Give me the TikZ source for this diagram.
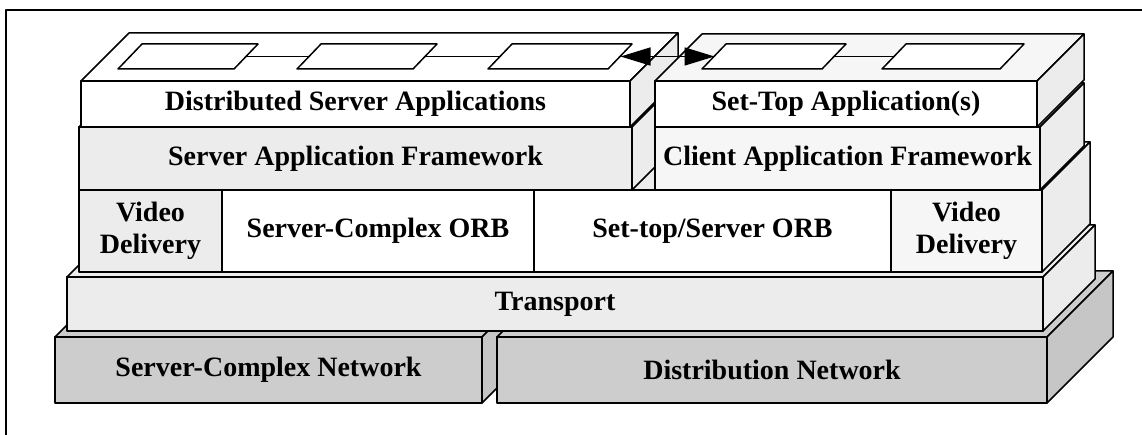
\documentclass[tikz,border=0pt]{standalone}
\usepackage{fontspec}
\setmainfont{Liberation Serif}
\usetikzlibrary{arrows.meta}
\definecolor{lite}{RGB}{236,236,236}
\definecolor{lite2}{RGB}{246,246,246}
\definecolor{net}{RGB}{205,205,205}
\definecolor{netside}{RGB}{198,198,198}
% top and right faces of a slab: x1,x2,ytop,ybot,depth,topfill,sidefill
\newcommand\slabfaces[7]{%
  \filldraw[fill=#6] (#1,#3) -- (#1+#5,#3-#5) -- (#2+#5,#3-#5) -- (#2,#3) -- cycle;
  \filldraw[fill=#7] (#2,#3) -- (#2+#5,#3-#5) -- (#2+#5,#4-#5) -- (#2,#4) -- cycle;}
% small tile on a top face: name, x of bottom-left, width
\newcommand\tile[3]{%
  \filldraw[fill=white] (#2,69) -- (#2+#3,69) -- (#2+#3+24,44) -- (#2+24,44) -- cycle;
  \coordinate (#1l) at (#2+12.5,56.5);
  \coordinate (#1r) at (#2+#3+12.5,56.5);}
\begin{document}
\begin{tikzpicture}[x=1pt,y=-1pt,line width=1.5pt,line join=round,
  face/.style={draw,line width=1.5pt,inner sep=0pt,align=center,
    font=\fontsize{28}{32}\selectfont\bfseries},
  link/.style={line width=1.5pt},
  bigarrow/.style={line width=1.5pt,
    {Triangle[length=30pt,width=18pt]}-{Triangle[length=30pt,width=18pt]}}]
\useasboundingbox (0,0) rectangle (1142,435);
% frame
\draw[line width=1.3pt] (6,435) -- (6,10) -- (1142,10);
% networks
\slabfaces{55}{482}{337}{403}{66}{net}{netside}
\node[face,fill=net,minimum width=427pt,minimum height=66pt] (scn) at (268.5,370) {Server-Complex Network};
\slabfaces{497}{1047}{337}{403}{66}{net}{netside}
\node[face,fill=net,minimum width=550pt,minimum height=66pt] (dn) at (772,370) {Distribution Network};
% transport
\slabfaces{67}{1043}{277}{331}{52}{lite}{lite}
\node[face,fill=lite,minimum width=976pt,minimum height=54pt] (tr) at (555,304) {Transport};
% ORB row
\slabfaces{79}{1042}{190}{272}{48}{lite}{lite}
\node[face,fill=lite,minimum width=143pt,minimum height=82pt] (vdl) at (150.5,231) {Video\\Delivery};
\node[face,fill=white,minimum width=312pt,minimum height=82pt] (sco) at (378,231) {Server-Complex ORB};
\node[face,fill=white,minimum width=357pt,minimum height=82pt] (sto) at (712.5,231) {Set-top/Server ORB};
\node[face,fill=lite2,minimum width=151pt,minimum height=82pt] (vdr) at (966.5,231) {Video\\Delivery};
% frameworks
\slabfaces{79}{632}{127}{190}{48}{lite}{lite}
\node[face,fill=lite,minimum width=553pt,minimum height=63pt] (saf) at (355.5,158.5) {Server Application Framework};
\slabfaces{655}{1040}{127}{190}{44}{lite}{lite}
\node[face,fill=lite2,minimum width=385pt,minimum height=63pt] (caf) at (847.5,158.5) {Client Application Framework};
% applications
\slabfaces{81}{630}{81}{127}{48}{white}{lite}
\node[face,fill=white,minimum width=549pt,minimum height=46pt] (dsa) at (355.5,104) {Distributed Server Applications};
\slabfaces{655}{1037}{81}{127}{47}{lite2}{lite}
\node[face,fill=white,minimum width=382pt,minimum height=46pt] (sta) at (846,104) {Set-Top Application(s)};
% tiles on the top faces
\tile{t1}{118}{116}
\tile{t2}{297}{116}
\tile{t3}{488}{120}
\tile{t4}{702}{120}
\tile{t5}{882}{118}
\draw[link] (t1r) -- (t2l);
\draw[link] (t2r) -- (t3l);
\draw[link] (t4r) -- (t5l);
\draw[bigarrow] (t3r) -- (t4l);
\end{tikzpicture}
\end{document}
